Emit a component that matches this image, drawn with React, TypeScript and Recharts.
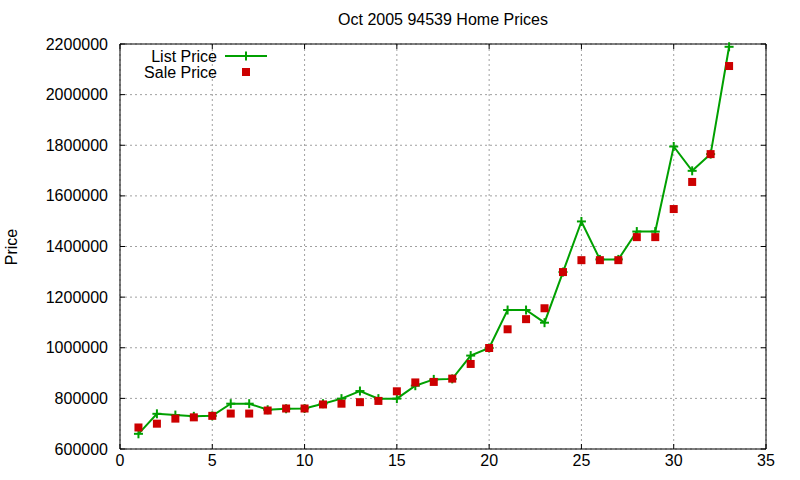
import { ComposedChart, Line, XAxis, YAxis, CartesianGrid } from 'recharts';

const homeIndex = [1, 2, 3, 4, 5, 6, 7, 8, 9, 10, 11, 12, 13, 14, 15, 16, 17, 18, 19, 20, 21, 22, 23, 24, 25, 26, 27, 28, 29, 30, 31, 32, 33];
const listPrice = [
  660000, 739000, 734000, 729000, 731000, 779000, 779000, 755000, 759000, 760000, 779000,
  799000, 829000, 799000, 799000, 850000, 875000, 877000, 969000, 999000, 1149000, 1149000,
  1099000, 1299000, 1499000, 1349000, 1349000, 1459000, 1459000, 1795000, 1699000, 1765000, 2189000,
];
const salePrice = [
  685000, 700000, 720000, 725000, 731000, 740000, 740000, 752000, 760000, 760000, 776000,
  779000, 785000, 790000, 828000, 863000, 865000, 878000, 936000, 999000, 1073000, 1113000,
  1156000, 1299000, 1346000, 1346000, 1346000, 1437000, 1437000, 1548000, 1655000, 1765000, 2113000,
];
const xTicks = [0, 5, 10, 15, 20, 25, 30, 35];
const yTicks = [600000, 800000, 1000000, 1200000, 1400000, 1600000, 1800000, 2000000, 2200000];

const data = homeIndex.map((n, i) => ({ n, list: listPrice[i], sale: salePrice[i] }));

const FONT = '"Liberation Sans", Arial, sans-serif';
const GREEN = '#00a000';
const RED = '#cc0000';
const PLOT = { left: 120, right: 766, top: 44, bottom: 449 };

const XTick = (props: any) => {
  const { x, y, payload } = props;
  return (
    <g>
      <line x1={x} x2={x} y1={PLOT.bottom} y2={PLOT.bottom - 5} stroke="#000" />
      <line x1={x} x2={x} y1={PLOT.top} y2={PLOT.top + 5} stroke="#000" />
      <text x={x} y={y} dy="0.71em" textAnchor="middle" fontSize={16} fontFamily={FONT} fill="#000">
        {payload.value}
      </text>
    </g>
  );
};

const YTick = (props: any) => {
  const { x, y, payload } = props;
  return (
    <g>
      <line x1={PLOT.left} x2={PLOT.left + 5} y1={y} y2={y} stroke="#000" />
      <line x1={PLOT.right} x2={PLOT.right - 5} y1={y} y2={y} stroke="#000" />
      <text x={x} y={y} dy="0.35em" textAnchor="end" fontSize={16} fontFamily={FONT} fill="#000">
        {payload.value}
      </text>
    </g>
  );
};

const PlusDot = (props: any) => {
  const { cx, cy } = props;
  if (cx == null || cy == null) return null;
  return (
    <g>
      <line x1={cx - 4.5} x2={cx + 4.5} y1={cy} y2={cy} stroke={GREEN} strokeWidth={2} />
      <line x1={cx} x2={cx} y1={cy - 4.5} y2={cy + 4.5} stroke={GREEN} strokeWidth={2} />
    </g>
  );
};

const SquareDot = (props: any) => {
  const { cx, cy } = props;
  if (cx == null || cy == null) return null;
  return <rect x={cx - 4} y={cy - 4} width={8} height={8} fill={RED} />;
};

const KeyBox = () => (
  <svg width={170} height={40} style={{ position: 'absolute', left: 120, top: 44 }}>
    <text x={97} y={12} dy="0.35em" textAnchor="end" fontSize={16} fontFamily={FONT} fill="#000">
      List Price
    </text>
    <line x1={105} x2={147} y1={12} y2={12} stroke={GREEN} strokeWidth={2} />
    <line x1={126} x2={126} y1={7.5} y2={16.5} stroke={GREEN} strokeWidth={2} />
    <text x={97} y={28} dy="0.35em" textAnchor="end" fontSize={16} fontFamily={FONT} fill="#000">
      Sale Price
    </text>
    <rect x={122} y={24} width={8} height={8} fill={RED} />
  </svg>
);

export default function App() {
  return (
    <div style={{ position: 'absolute', left: 0, top: 0, width: 800, height: 480, background: '#fff' }}>
      <div
        style={{
          position: 'absolute', left: 0, width: 886, top: 11, textAlign: 'center',
          fontFamily: FONT, fontSize: 16, lineHeight: '18px', color: '#000',
        }}
      >
        Oct 2005 94539 Home Prices
      </div>
      <div
        style={{
          position: 'absolute', left: 12, top: 247, transform: 'translate(-50%, -50%) rotate(-90deg)',
          fontFamily: FONT, fontSize: 16, lineHeight: '18px', color: '#000', whiteSpace: 'nowrap',
        }}
      >
        Price
      </div>
      <ComposedChart width={800} height={480} data={data} margin={{ top: 43, right: 33, bottom: 0, left: 0 }}>
        <CartesianGrid stroke="#a0a0a0" strokeDasharray="2 3" />
        <XAxis
          dataKey="n" type="number" domain={[0, 35]} ticks={xTicks} height={31}
          tickLine={false} tickSize={0} tickMargin={6} axisLine={{ stroke: '#000' }} tick={<XTick />}
          interval={0}
        />
        <XAxis xAxisId="top" orientation="top" type="number" domain={[0, 35]} height={1} tick={false} tickLine={false} axisLine={{ stroke: '#000' }} />
        <YAxis
          type="number" domain={[600000, 2200000]} ticks={yTicks} width={120}
          tickLine={false} tickSize={0} tickMargin={12} axisLine={{ stroke: '#000' }} tick={<YTick />}
          interval={0}
        />
        <YAxis yAxisId="right" orientation="right" type="number" domain={[600000, 2200000]} width={1} tick={false} tickLine={false} axisLine={{ stroke: '#000' }} />
        <Line
          type="linear" dataKey="list" name="List Price" stroke={GREEN} strokeWidth={2}
          dot={<PlusDot />} activeDot={false} isAnimationActive={false}
        />
        <Line
          type="linear" dataKey="sale" name="Sale Price" stroke="none" strokeWidth={0}
          dot={<SquareDot />} activeDot={false} isAnimationActive={false}
        />
      </ComposedChart>
      <KeyBox />
    </div>
  );
}
